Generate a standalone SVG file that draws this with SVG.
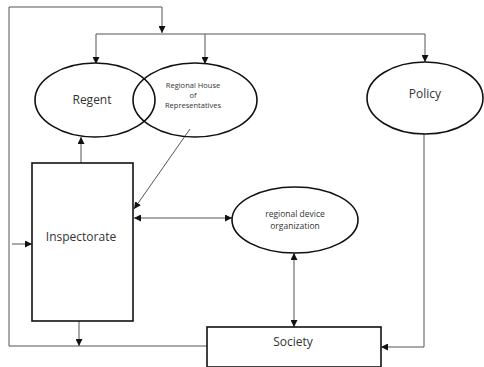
<svg xmlns="http://www.w3.org/2000/svg" width="484" height="367" viewBox="0 0 484 367">
<defs>
<marker id="ah" viewBox="0 0 10 10" refX="10" refY="5" markerWidth="7" markerHeight="7" orient="auto-start-reverse" markerUnits="userSpaceOnUse">
<path d="M0,0 L10,5 L0,10 z" fill="#111"/>
</marker>
<style>
.n{fill:#fff;stroke:#111;stroke-width:1.6}
.c{fill:none;stroke:#555;stroke-width:1}
.t{font-family:"Open Sans","Liberation Sans",sans-serif;fill:#333;text-anchor:middle}
.big{font-size:12px}
.sm{font-size:7.5px}
.md{font-size:8.5px}
</style>
</defs>
<rect width="484" height="367" fill="#fff"/>
<g id="connectors">
<polyline class="c" points="9,346 9,7 162,7 162,33" marker-end="url(#ah)"/>
<line class="c" x1="96" y1="34" x2="425" y2="34"/>
<line class="c" x1="96" y1="34" x2="96" y2="64" marker-end="url(#ah)"/>
<line class="c" x1="205" y1="34" x2="205" y2="64" marker-end="url(#ah)"/>
<line class="c" x1="425" y1="34" x2="425" y2="62" marker-end="url(#ah)"/>
<line class="c" x1="81" y1="163" x2="81" y2="137" marker-end="url(#ah)"/>
<line class="c" x1="190" y1="129" x2="134" y2="209" marker-end="url(#ah)"/>
<line class="c" x1="134" y1="218" x2="232" y2="218" marker-start="url(#ah)" marker-end="url(#ah)"/>
<line class="c" x1="294" y1="253" x2="294" y2="327" marker-start="url(#ah)" marker-end="url(#ah)"/>
<polyline class="c" points="424,134 424,347 381,347" marker-end="url(#ah)"/>
<line class="c" x1="12" y1="244" x2="32" y2="244" marker-end="url(#ah)"/>
<line class="c" x1="9" y1="346" x2="207" y2="346"/>
<line class="c" x1="79" y1="321" x2="79" y2="346" marker-end="url(#ah)"/>
</g>
<g id="regent">
<ellipse class="n" cx="95" cy="100" rx="60" ry="37"/>
<text class="t big" x="92" y="104">Regent</text>
</g>
<g id="house">
<ellipse class="n" cx="195" cy="100" rx="62" ry="37" style="fill:none"/>
<text class="t sm" x="193" y="88">Regional House</text>
<text class="t sm" x="193" y="98">of</text>
<text class="t sm" x="193" y="108">Representatives</text>
</g>
<g id="policy">
<ellipse class="n" cx="425" cy="98" rx="58" ry="36"/>
<text class="t big" x="425" y="98">Policy</text>
</g>
<g id="inspectorate">
<rect class="n" x="32" y="163" width="101" height="158"/>
<text class="t big" x="81" y="241">Inspectorate</text>
</g>
<g id="rdo">
<ellipse class="n" cx="295" cy="220" rx="63" ry="33"/>
<text class="t md" x="295" y="217">regional device</text>
<text class="t md" x="295" y="229">organization</text>
</g>
<g id="society">
<rect class="n" x="207" y="327" width="174" height="40"/>
<text class="t big" x="293" y="346">Society</text>
</g>
</svg>
